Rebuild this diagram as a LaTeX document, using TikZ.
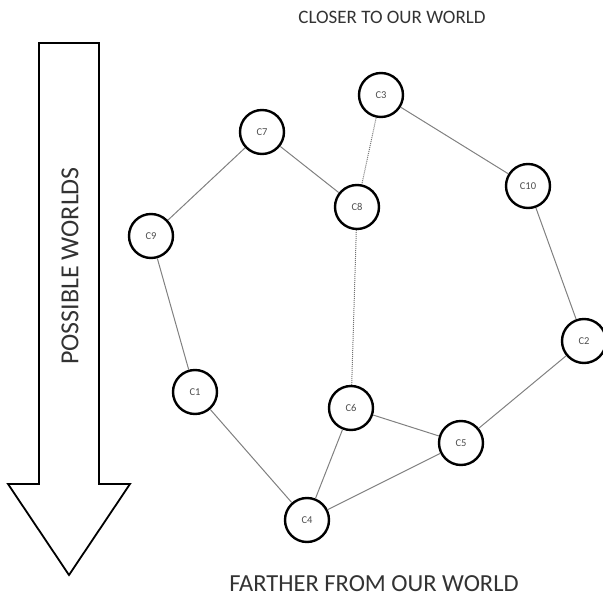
\documentclass[tikz,border=0pt]{standalone}
\usepackage{fontspec}
\setmainfont{Carlito}
\begin{document}
\begin{tikzpicture}[
        x=1pt, y=-1pt,
        every node/.style={draw, circle, line width=2.4pt, minimum size=44pt,
            inner sep=0pt, font=\fontsize{10.5}{10.5}\selectfont, text=black!70},
        link/.style={draw=black!50, line width=1pt},
        weaklink/.style={draw=black!55, line width=1pt, densely dotted}
    ]
        \useasboundingbox (0,0) rectangle (603,601);

        % Svetovi (vozlišča)
        \node (c3) at (381, 95) {C3};
        \node (c7) at (262, 132) {C7};
        \node (c10) at (528, 186) {C10};
        \node (c8) at (357, 207) {C8};
        \node (c9) at (151, 236) {C9};
        \node (c2) at (584, 341) {C2};
        \node (c1) at (195, 392) {C1};
        \node (c6) at (351, 408) {C6};
        \node (c5) at (461, 443) {C5};
        \node (c4) at (307, 520) {C4};

        % Polne povezave
        \foreach \a/\b in {c7/c9, c7/c8, c9/c1, c1/c4, c3/c10, c10/c2, c2/c5, c6/c5, c6/c4, c4/c5} {
            \draw[link] (\a) -- (\b);
        }
        % Pikčaste povezave
        \draw[weaklink] (c3) -- (c8);
        \draw[weaklink] (c8) -- (c6);

        % --- PUŠČICA ---
        \draw[line width=1.8pt, line join=miter]
            (39,43) -- (99,43) -- (99,484) -- (130,484) -- (69,575)
            -- (8,484) -- (39,484) -- cycle;
        \node[draw=none, rotate=90, text=black!80, font=\fontsize{26}{26}\selectfont]
            (possible) at (70, 266) {POSSIBLE WORLDS};

        % Napisa zgoraj in spodaj
        \node[draw=none, text=black!80, font=\fontsize{19}{19}\selectfont]
            (closer) at (392, 17) {CLOSER TO OUR WORLD};
        \node[draw=none, text=black!80, font=\fontsize{24.5}{24.5}\selectfont]
            (farther) at (374, 584) {FARTHER FROM OUR WORLD};
    \end{tikzpicture}
\end{document}
